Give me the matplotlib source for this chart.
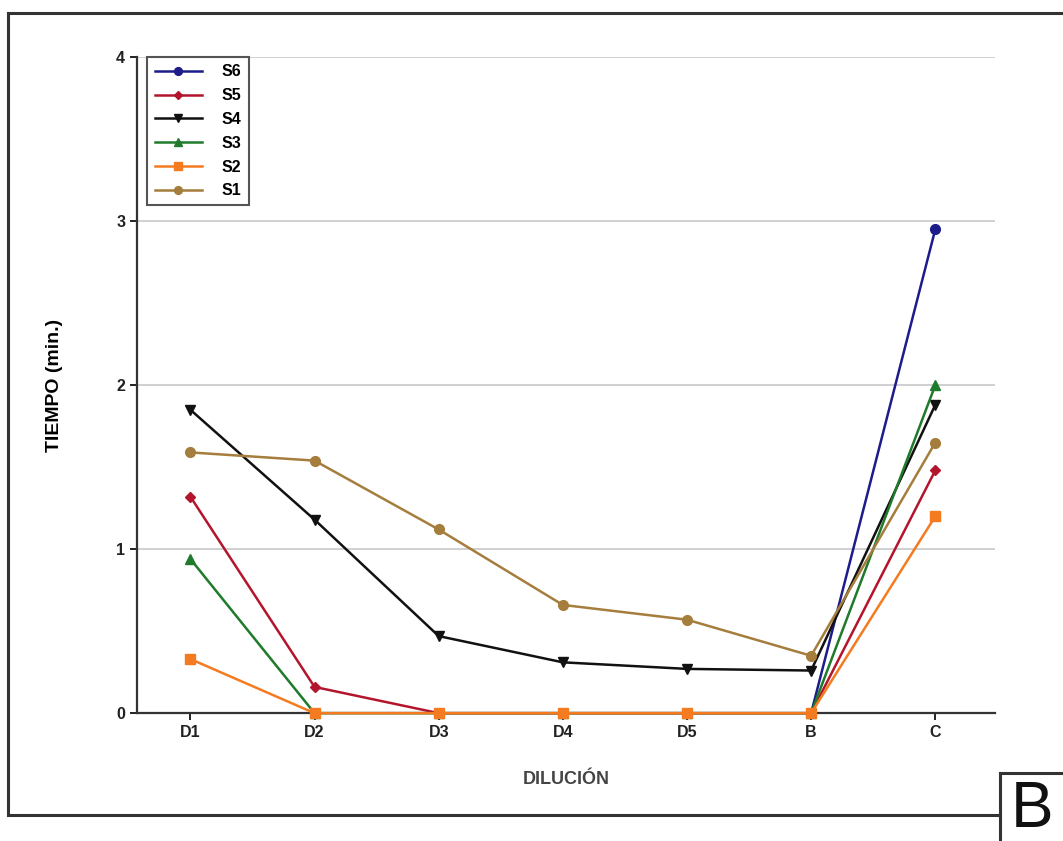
import matplotlib
matplotlib.use("Agg")
import matplotlib.pyplot as plt
from matplotlib.lines import Line2D

nan = float("nan")
categories = ["D1", "D2", "D3", "D4", "D5", "B", "C"]
s6 = [nan, nan, nan, nan, nan, 0, 2.95]
s5 = [1.32, 0.16, 0, 0, 0, 0, 1.48]
s4 = [1.85, 1.18, 0.47, 0.31, 0.27, 0.26, 1.88]
s3 = [0.94, 0, 0, 0, 0, 0, 2.0]
s2 = [0.33, 0, 0, 0, 0, 0, 1.20]
s1 = [1.59, 1.54, 1.12, 0.66, 0.57, 0.35, 1.65]
series_names = ["S6", "S5", "S4", "S3", "S2", "S1"]
yticks = [0, 1, 2, 3, 4]

plt.rcParams['font.family'] = ['Liberation Sans', 'DejaVu Sans']

fig = plt.figure(figsize=(10.63, 8.41), dpi=100)
ax = fig.add_axes([0.1289, 0.152, 0.807, 0.780])

styles = [
    (s6, "#1c1c8a", "o", 7),
    (s5, "#b3162c", "D", 5.5),
    (s4, "#111111", "v", 7),
    (s3, "#1f7a2c", "^", 7),
    (s2, "#f47b20", "s", 7),
    (s1, "#a57d3c", "o", 7),
]
x = list(range(len(categories)))
handles = []
for name, (vals, col, mk, ms) in zip(series_names, styles):
    ln, = ax.plot(x, vals, color=col, marker=mk, markersize=ms, linewidth=1.8,
                  clip_on=False, zorder=3)
    handles.append(ln)

ax.set_xlim(-0.43, 6.48)
ax.set_ylim(0, 4)
ax.set_yticks(yticks)
ax.set_xticks(x)
ax.set_xticklabels(categories)
ax.yaxis.grid(True, color="#c8c8c8", linewidth=1.2)
ax.set_axisbelow(True)
for sp in ["top", "right"]:
    ax.spines[sp].set_visible(False)
for sp in ["left", "bottom"]:
    ax.spines[sp].set_linewidth(1.6)
    ax.spines[sp].set_color("#333333")
ax.tick_params(axis="both", direction="out", width=1.4, length=5, labelsize=11.5,
               colors="#222222")
for lbl in ax.get_xticklabels() + ax.get_yticklabels():
    lbl.set_fontweight("bold")

ax.set_ylabel("TIEMPO (min.)", fontsize=14, fontweight="bold", labelpad=38)
ax.set_xlabel("DILUCIÓN", fontsize=13, fontweight="bold", color="#444444", labelpad=22)

leg = ax.legend(handles=handles, labels=series_names, loc="upper left",
                bbox_to_anchor=(0.012, 1.0), borderaxespad=0, fancybox=False,
                framealpha=1, edgecolor="#555555",
                prop={"weight": "bold", "size": 11.5},
                handlelength=3.0, handletextpad=1.2, borderpad=0.45,
                labelspacing=0.55, markerscale=0.8)
leg.get_frame().set_linewidth(1.5)

# outer frame
W, H = 1063, 841
def fx(px): return px / W
def fy(py): return 1 - py / H
frame_kw = dict(color="#333333", linewidth=2.2, transform=fig.transFigure)
fig.add_artist(Line2D([fx(8), fx(1063)], [fy(13), fy(13)], **frame_kw))
fig.add_artist(Line2D([fx(8), fx(8)], [fy(13), fy(815)], **frame_kw))
fig.add_artist(Line2D([fx(8), fx(1000)], [fy(815), fy(815)], **frame_kw))
fig.add_artist(Line2D([fx(1000), fx(1000)], [fy(773), fy(841)], **frame_kw))
fig.add_artist(Line2D([fx(1000), fx(1063)], [fy(773), fy(773)], **frame_kw))
fig.text(fx(1032), fy(810), "B", fontsize=46, ha="center", va="center", color="#111111")

fig.savefig("out.png", dpi=100)
